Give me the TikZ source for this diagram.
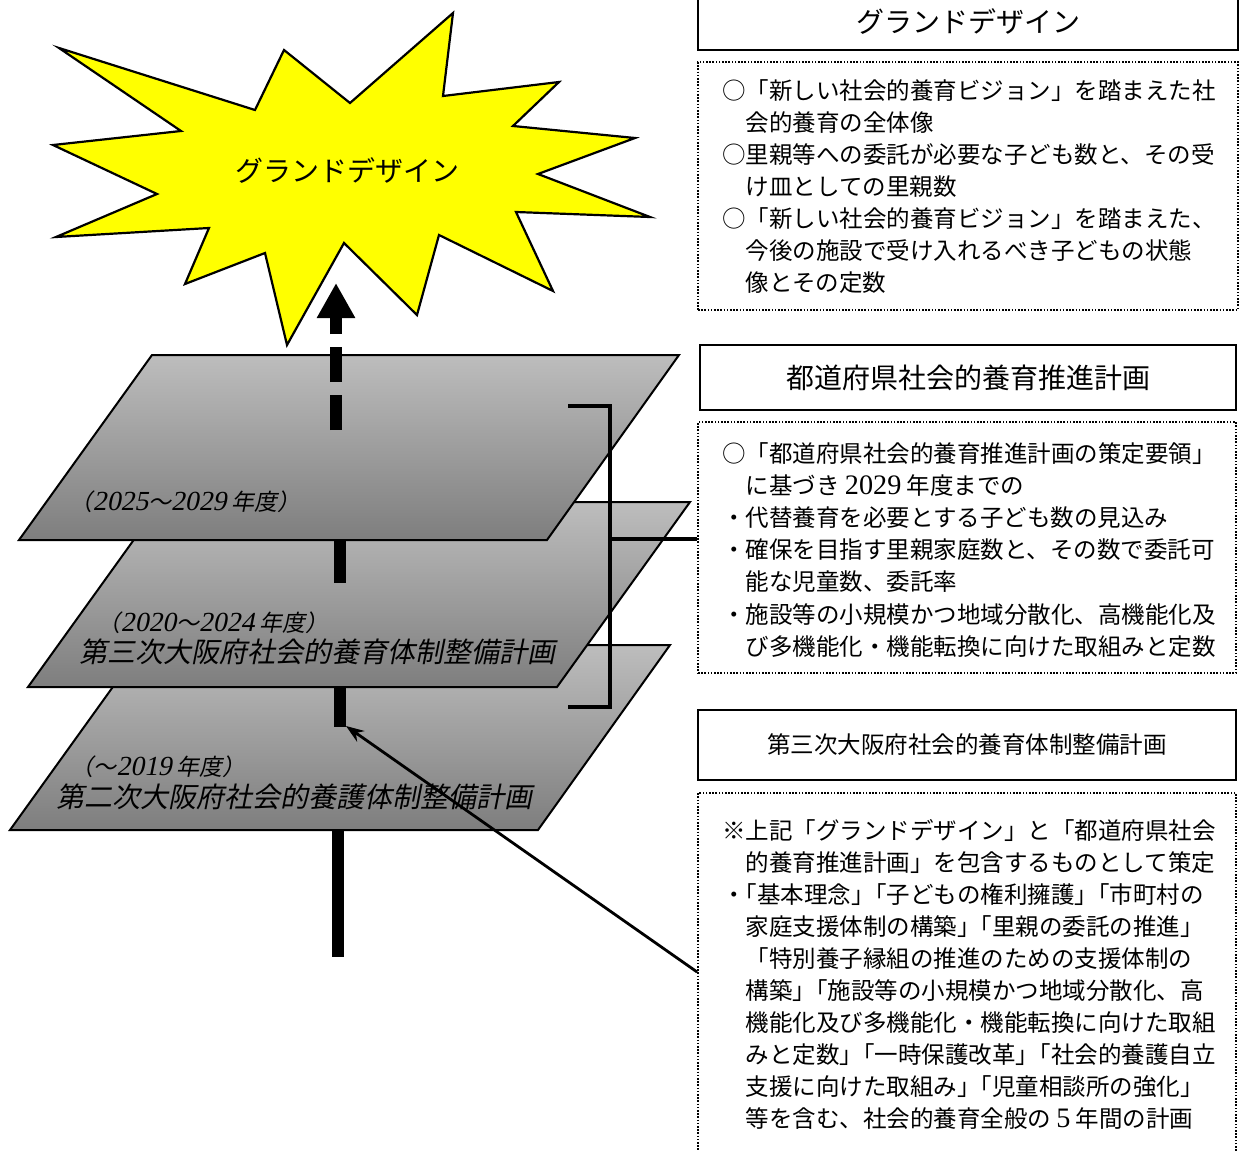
\documentclass[tikz,border=0pt]{standalone}
\usepackage{fontspec}
\setmainfont{Noto Sans CJK JP}
\newfontfamily\srf[Scale=1.2]{Liberation Serif}
\newfontfamily\jphalt[RawFeature=+halt]{Noto Sans CJK JP}
\usetikzlibrary{arrows.meta}
\newcommand\kakko{{\jphalt 」}「}
\definecolor{planetop}{HTML}{BDBDBD}
\definecolor{planebot}{HTML}{7E7E7E}
\definecolor{staryellow}{HTML}{FFFF00}
\begin{document}
\begin{tikzpicture}[x=1pt,y=-1pt,
  starshape/.style={draw=black, line width=2.2pt, fill=staryellow, line join=miter},
  plane/.style={draw=black, line width=2pt, top color=planetop, bottom color=planebot},
  vbar/.style={line width=12pt},
  titlebox/.style={draw=black, line width=2pt, inner sep=0pt},
  dotbox/.style={draw=black, line width=1.8pt, dash pattern=on 1.6pt off 1.6pt, inner sep=0pt},
  bodyline/.style={anchor=base west, inner sep=0pt, font=\fontsize{23.5}{32}\selectfont},
  planelabel/.style={inner sep=0pt, transform shape, font=\fontsize{28}{34}\selectfont},
  yearlabel/.style={inner sep=0pt, transform shape, font=\fontsize{23}{28}\selectfont},
  bracketline/.style={line width=3.5pt},
]
\useasboundingbox (0,0) rectangle (1240,1151);

% ---- star ----
\path[starshape] (59,48) -- (255,110) -- (284,50) -- (350,103) -- (453,13) -- (443,96)
  -- (559,82) -- (513,126) -- (635,138) -- (538,174) -- (650,217) -- (516,212)
  -- (553,291) -- (439,235) -- (417,315) -- (344,243) -- (287,345) -- (265,253)
  -- (185,284) -- (209,228) -- (56,237) -- (157,194) -- (53,145) -- (181,131) -- cycle;
\node[inner sep=0pt, font=\fontsize{28}{34}\selectfont] (startext) at (347,171) {グランドデザイン};

% ---- lower bar ----
\coordinate (cTop) at (338,830);
\coordinate (cBot) at (338,957);
\draw[vbar] (cTop) -- (cBot);

% ---- bottom plane ----
\path[plane] (143,645) -- (670,645) -- (538,830) -- (10,830) -- cycle;
\begin{scope}[shift={(160,767)}, xslant=0.2]
  \node[yearlabel] (y3) at (0,0) {（～{\srf 2019} 年度）};
\end{scope}
\begin{scope}[shift={(297,797)}, xslant=0.2]
  \node[planelabel] (p3) at (0,0) {第二次大阪府社会的養護体制整備計画};
\end{scope}

% ---- middle plane ----
\path[plane] (161,502) -- (690,502) -- (557,687) -- (28,687) -- cycle;
\coordinate (bTop) at (340,687);
\coordinate (bBot) at (340,727);
\draw[vbar] (bTop) -- (bBot);
\begin{scope}[shift={(215,623)}, xslant=0.2]
  \node[yearlabel] (y2) at (0,0) {（{\srf 2020}～{\srf 2024} 年度）};
\end{scope}
\begin{scope}[shift={(320,652)}, xslant=0.2]
  \node[planelabel] (p2) at (0,0) {第三次大阪府社会的養育体制整備計画};
\end{scope}

% ---- top plane ----
\path[plane] (152,355) -- (679,355) -- (547,540) -- (19,540) -- cycle;
\coordinate (aTop) at (340,540);
\coordinate (aBot) at (340,583);
\draw[vbar] (aTop) -- (aBot);
\begin{scope}[shift={(187,502)}, xslant=0.2]
  \node[yearlabel] (y1) at (0,0) {（{\srf 2025}～{\srf 2029} 年度）};
\end{scope}

% ---- dashed arrow to star ----
\coordinate (arrS) at (336,430);
\coordinate (arrE) at (336,283);
\draw[line width=12pt, dash pattern=on 35pt off 13pt, -{Triangle[length=35pt,width=36pt]}] (arrS) -- (arrE);

% ---- right boxes ----
\node[titlebox, minimum width=540pt, minimum height=56pt, font=\fontsize{28}{34}\selectfont] (t1) at (968,22) {グランドデザイン};
\node[dotbox, minimum width=540pt, minimum height=248pt] (d1) at (968,186) {};
\node[titlebox, minimum width=536pt, minimum height=65pt, font=\fontsize{28}{34}\selectfont] (t2) at (968,377.5) {都道府県社会的養育推進計画};
\node[dotbox, minimum width=538pt, minimum height=251pt] (d2) at (967,547.5) {};
\node[titlebox, minimum width=538pt, minimum height=70pt, font=\fontsize{23.5}{30}\selectfont] (t3) at (967,745) {第三次大阪府社会的養育体制整備計画};
\node[dotbox, minimum width=538pt, minimum height=367pt] (d3) at (967,976.5) {};

\foreach \t [count=\i] in {
  {○「新しい社会的養育ビジョン」を踏まえた社},
  {　会的養育の全体像},
  {○里親等への委託が必要な子ども数と、その受},
  {　け皿としての里親数},
  {○「新しい社会的養育ビジョン」を踏まえた、},
  {　今後の施設で受け入れるべき子どもの状態},
  {　像とその定数}}
  \node[bodyline] (ga\i) at (722,{99+32*(\i-1)}) {\t};

\foreach \t [count=\i] in {
  {○「都道府県社会的養育推進計画の策定要領」},
  {　に基づき {\srf 2029} 年度までの},
  {・代替養育を必要とする子ども数の見込み},
  {・確保を目指す里親家庭数と、その数で委託可},
  {　能な児童数、委託率},
  {・施設等の小規模かつ地域分散化、高機能化及},
  {　び多機能化・機能転換に向けた取組みと定数}}
  \node[bodyline] (gb\i) at (722,{462+32.2*(\i-1)}) {\t};

\foreach \t [count=\i] in {
  {※上記「グランドデザイン」と「都道府県社会},
  {　的養育推進計画」を包含するものとして策定},
  {・{\jphalt 「}基本理念\kakko 子どもの権利擁護\kakko 市町村の},
  {　家庭支援体制の構築\kakko 里親の委託の推進」},
  {　「特別養子縁組の推進のための支援体制の},
  {　構築\kakko 施設等の小規模かつ地域分散化、高},
  {　機能化及び多機能化・機能転換に向けた取組},
  {　みと定数\kakko 一時保護改革\kakko 社会的養護自立},
  {　支援に向けた取組み\kakko 児童相談所の強化」},
  {　等を含む、社会的養育全般の {\srf 5} 年間の計画}}
  \node[bodyline] (gc\i) at (722,{839+32*(\i-1)}) {\t};

% ---- bracket ----
\coordinate (brA) at (568,406);
\coordinate (brB) at (610,406);
\coordinate (brC) at (610,707);
\coordinate (brD) at (568,707);
\coordinate (brM) at (610,539);
\draw[bracketline] (brA) -- (brB) -- (brC) -- (brD);
\draw[bracketline] (brM) -- (brM -| d2.west);

% ---- arrow from box 3 ----
\coordinate (tipB) at (346,726);
\draw[line width=2.8pt, -{Stealth[length=18pt,width=13pt]}] ([yshift=4.5pt]d3.west) -- (tipB);
\end{tikzpicture}
\end{document}
